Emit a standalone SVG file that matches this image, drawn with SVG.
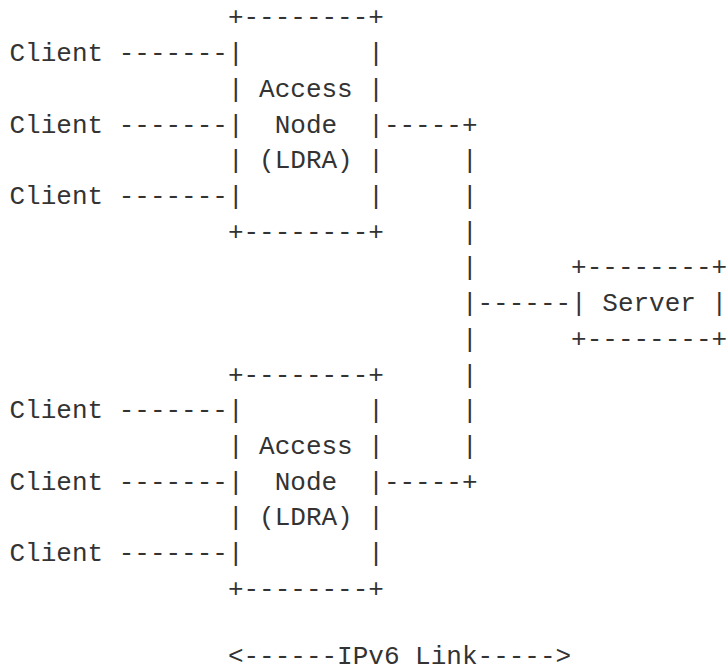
<svg xmlns="http://www.w3.org/2000/svg" width="728" height="667" viewBox="0 0 728 667">
  <style>
    text { font-family: "Liberation Mono", "DejaVu Sans Mono", monospace; font-size: 26px; fill: #333333; white-space: pre; }
  </style>
  <rect width="728" height="667" fill="#ffffff"/>

  <!-- Upper access node -->
  <g id="access-node-1">
    <text x="227.9" y="25.3">+--------+</text>
    <text x="227.9" y="61.0">|        |</text>
    <text x="227.9" y="96.7">| Access |</text>
    <text x="227.9" y="132.5">|  Node  |</text>
    <text x="227.9" y="168.2">| (LDRA) |</text>
    <text x="227.9" y="203.9">|        |</text>
    <text x="227.9" y="239.6">+--------+</text>
  </g>

  <!-- Lower access node -->
  <g id="access-node-2">
    <text x="227.9" y="382.5">+--------+</text>
    <text x="227.9" y="418.2">|        |</text>
    <text x="227.9" y="453.9">| Access |</text>
    <text x="227.9" y="489.7">|  Node  |</text>
    <text x="227.9" y="525.4">| (LDRA) |</text>
    <text x="227.9" y="561.1">|        |</text>
    <text x="227.9" y="596.8">+--------+</text>
  </g>

  <!-- Server -->
  <g id="server">
    <text x="571.1" y="275.3">+--------+</text>
    <text x="571.1" y="311.1">| Server |</text>
    <text x="571.1" y="346.8">+--------+</text>
  </g>

  <!-- Clients -->
  <g id="client-1"><text x="9.5" y="61.0">Client</text></g>
  <g id="client-2"><text x="9.5" y="132.5">Client</text></g>
  <g id="client-3"><text x="9.5" y="203.9">Client</text></g>
  <g id="client-4"><text x="9.5" y="418.2">Client</text></g>
  <g id="client-5"><text x="9.5" y="489.7">Client</text></g>
  <g id="client-6"><text x="9.5" y="561.1">Client</text></g>

  <!-- Connectors: client links, node uplinks, shared link and server link -->
  <g id="connectors">
    <text x="118.7" y="61.0">-------</text>
    <text x="118.7" y="132.5">-------</text>
    <text x="118.7" y="203.9">-------</text>
    <text x="118.7" y="418.2">-------</text>
    <text x="118.7" y="489.7">-------</text>
    <text x="118.7" y="561.1">-------</text>

    <text x="383.9" y="132.5">-----+</text>
    <text x="461.9" y="168.2">|</text>
    <text x="461.9" y="203.9">|</text>
    <text x="461.9" y="239.6">|</text>
    <text x="461.9" y="275.3">|</text>
    <text x="461.9" y="311.1">|------</text>
    <text x="461.9" y="346.8">|</text>
    <text x="461.9" y="382.5">|</text>
    <text x="461.9" y="418.2">|</text>
    <text x="461.9" y="453.9">|</text>
    <text x="383.9" y="489.7">-----+</text>
  </g>

  <!-- Link label -->
  <g id="ipv6-link">
    <text x="227.9" y="663.5">&lt;------IPv6 Link-----&gt;</text>
  </g>
</svg>
